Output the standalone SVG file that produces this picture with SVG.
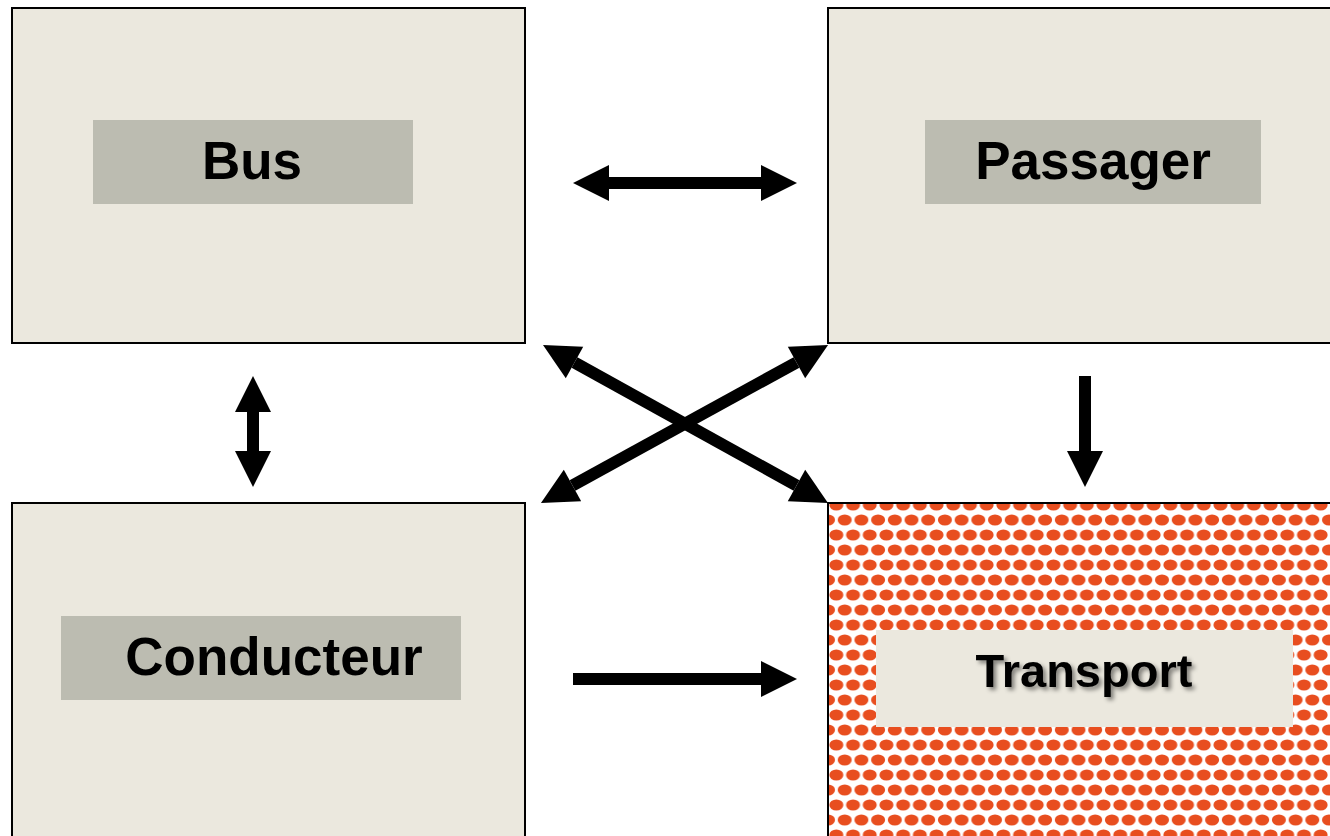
<svg xmlns="http://www.w3.org/2000/svg" width="1330" height="836" viewBox="0 0 1330 836">
<style>
.box{fill:#ebe8de;stroke:#000;stroke-width:2}
.lbl{fill:#bcbcb1}
.t{font-family:"Liberation Sans",Arial,sans-serif;font-weight:bold;fill:#000;text-anchor:middle}
.c{stroke:#000;stroke-width:12;fill:none}
.r{fill:#e84e1f}
</style>
<defs>
<marker id="ah" viewBox="0 0 3 3" refX="0" refY="1.5" markerWidth="3" markerHeight="3" orient="auto-start-reverse" overflow="visible">
<path d="M0,0 L3,1.5 L0,3 Z" fill="#000"/>
</marker>
<pattern id="pat" width="16.7" height="30" patternUnits="userSpaceOnUse" x="828" y="505">
<rect width="16.7" height="30" fill="#fff"/>
<ellipse class="r" cx="8.35" cy="0" rx="7" ry="5.5"/>
<ellipse class="r" cx="8.35" cy="30" rx="7" ry="5.5"/>
<ellipse class="r" cx="0" cy="15" rx="7" ry="5.5"/>
<ellipse class="r" cx="16.7" cy="15" rx="7" ry="5.5"/>
</pattern>
<filter id="sh" x="-10%" y="-20%" width="130%" height="150%">
<feDropShadow dx="3" dy="3" stdDeviation="2" flood-color="#000" flood-opacity="0.45"/>
</filter>
</defs>
<rect width="1330" height="836" fill="#fff"/>
<g id="bus">
<rect class="box" x="12" y="8" width="513" height="335"/>
<rect class="lbl" x="93" y="120" width="320" height="84"/>
<text class="t" x="252" y="179" font-size="53">Bus</text>
</g>
<g id="passager">
<rect class="box" x="828" y="8" width="510" height="335"/>
<rect class="lbl" x="925" y="120" width="336" height="84"/>
<text class="t" x="1093" y="179" font-size="53">Passager</text>
</g>
<g id="conducteur">
<rect class="box" x="12" y="503" width="513" height="340"/>
<rect class="lbl" x="61" y="616" width="400" height="84"/>
<text class="t" x="274" y="675" font-size="53">Conducteur</text>
</g>
<g id="transport">
<rect x="828" y="503" width="510" height="340" fill="url(#pat)" stroke="#000" stroke-width="2"/>
<rect x="876" y="630" width="417" height="97" fill="#ebe8de"/>
<text class="t" x="1084" y="687" font-size="47" filter="url(#sh)">Transport</text>
</g>
<g id="connectors">
<line class="c" x1="609" y1="183" x2="761" y2="183" marker-start="url(#ah)" marker-end="url(#ah)"/>
<line class="c" x1="253" y1="412" x2="253" y2="451" marker-start="url(#ah)" marker-end="url(#ah)"/>
<line class="c" x1="1085" y1="376" x2="1085" y2="451" marker-end="url(#ah)"/>
<line class="c" x1="573" y1="679" x2="761" y2="679" marker-end="url(#ah)"/>
<line class="c" x1="574.5" y1="362.5" x2="796.5" y2="485.5" marker-start="url(#ah)" marker-end="url(#ah)"/>
<line class="c" x1="572.5" y1="485.6" x2="796.5" y2="362.4" marker-start="url(#ah)" marker-end="url(#ah)"/>
</g>
</svg>
